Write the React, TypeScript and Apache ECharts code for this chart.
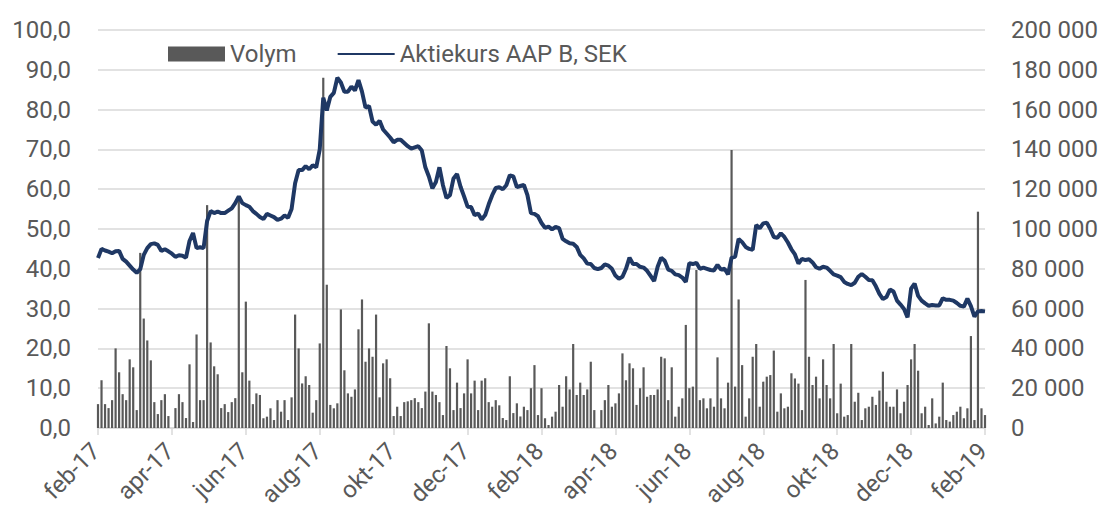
import React, { useEffect, useRef } from 'react';
import * as echarts from 'echarts';

const tickLabels = ['feb-17', 'apr-17', 'jun-17', 'aug-17', 'okt-17', 'dec-17', 'feb-18', 'apr-18', 'jun-18', 'aug-18', 'okt-18', 'dec-18', 'feb-19'];

// Aktiekurs AAP B, SEK (sampled about every 2.9 calendar days)
const price = [
  42.7, 45.0, 44.6, 44.3, 43.9, 44.4, 44.5, 42.5, 41.8, 40.8,
  39.8, 39.0, 39.9, 43.5, 45.2, 46.2, 46.4, 46.0, 44.5, 44.9,
  44.4, 43.8, 43.0, 43.4, 43.3, 42.8, 47.0, 49.0, 45.2, 45.4,
  45.2, 52.0, 54.5, 54.0, 54.4, 54.0, 54.0, 54.6, 55.2, 56.5,
  58.2, 56.5, 56.0, 55.6, 54.5, 53.8, 53.0, 52.5, 53.8, 53.4,
  53.0, 52.3, 52.6, 53.4, 52.8, 55.0, 61.5, 64.8, 64.8, 65.8,
  65.0, 66.0, 65.5, 70.0, 83.0, 79.8, 83.2, 84.2, 88.0, 86.8,
  84.5, 84.5, 85.8, 84.8, 87.4, 84.5, 80.5, 80.9, 77.0, 76.2,
  77.2, 75.0, 74.0, 73.0, 71.8, 72.4, 72.4, 71.6, 70.8, 70.2,
  70.5, 70.8, 69.7, 65.5, 63.2, 60.2, 61.8, 65.5, 61.0, 57.8,
  58.5, 62.7, 63.8, 60.6, 58.2, 55.6, 55.5, 53.5, 53.9, 52.4,
  53.5, 56.2, 58.5, 60.3, 60.5, 60.0, 61.0, 63.5, 63.2, 60.5,
  60.8, 61.1, 58.5, 54.0, 53.8, 53.2, 51.5, 50.3, 50.6, 49.9,
  50.5, 50.2, 47.5, 46.9, 46.4, 46.3, 45.5, 43.5, 42.6, 41.3,
  41.2, 40.2, 39.9, 40.2, 41.1, 40.8, 40.0, 38.3, 37.5, 38.0,
  40.0, 42.8, 41.2, 41.2, 40.5, 40.3, 39.5, 38.2, 36.9, 40.5,
  42.8, 42.0, 39.8, 39.5, 38.6, 38.4, 37.8, 36.7, 41.4, 41.2,
  41.5, 40.0, 40.3, 40.0, 39.7, 39.6, 41.0, 39.8, 40.0, 38.6,
  42.8, 43.0, 47.5, 46.7, 45.5, 45.0, 44.8, 51.0, 50.2, 51.4,
  51.6, 50.0, 48.0, 47.8, 48.9, 48.0, 46.6, 44.9, 43.6, 41.3,
  42.5, 42.2, 42.4, 41.6, 40.4, 40.0, 40.5, 40.3, 39.5, 38.6,
  38.3, 37.9, 36.7, 36.2, 35.9, 36.5, 38.0, 38.7, 38.0, 37.2,
  37.1, 35.6, 33.7, 32.4, 32.9, 34.8, 34.3, 32.0, 31.0, 29.9,
  27.8, 35.0, 36.3, 33.2, 32.0, 31.3, 30.7, 30.9, 30.8, 30.8,
  32.6, 32.2, 32.2, 32.0, 31.4, 30.7, 30.5, 32.5, 30.6, 28.0,
  29.3, 29.4, 29.3,
];

// Volym, thousands of shares
const volumeK = [
  12, 24, 12, 10, 14, 40, 28, 17, 14, 34.5,
  30.5, 9, 88, 55, 44, 34, 13, 7, 14, 17,
  6, 0, 10, 17, 13, 5, 32, 3, 47, 14,
  14, 112, 43, 31, 27, 10, 12, 8, 13, 15,
  116, 28, 63.5, 23.8, 12, 17.4, 16.6, 4.9, 5.7, 9.9,
  4, 14, 8.2, 14, 4, 15.4, 57, 40, 22.4, 26,
  21.6, 7.7, 14, 42.5, 176, 72, 11.6, 9.9, 12.4, 59.6,
  29, 17.4, 15.7, 19.4, 49.6, 64.6, 33.3, 40, 35.8, 57,
  15.4, 32.5, 34.5, 25, 6, 10.7, 6, 13, 13.4, 14,
  15, 13, 10, 18.3, 52.6, 18.3, 16.6, 13, 6.5, 41.2,
  30, 9, 22.8, 10, 17.4, 34.5, 17.4, 23.8, 9, 23.8,
  25, 13, 10.7, 14, 11.4, 5, 4, 26, 7.5, 12.4,
  5.8, 10.7, 9, 20, 31.6, 6.5, 20, 4.9, 1.5, 5.7,
  8.2, 21.6, 10.7, 26, 19.4, 42.2, 16.6, 22.8, 16.6, 19.4,
  33.3, 9, 0, 9, 14, 21.6, 10.7, 12.4, 17.4, 37.5,
  24, 32.5, 30, 11.6, 20, 30.5, 15.7, 16.6, 16.6, 19.4,
  35.8, 35, 14, 30.5, 5.7, 10.7, 14.9, 51.8, 20, 20.8,
  79.4, 14, 14.9, 9.9, 14.9, 10.7, 35.5, 14.9, 9.9, 22.8,
  139.7, 20.8, 64.6, 31.6, 5.7, 14.9, 35.8, 42.2, 10.7, 23.3,
  25.8, 26.6, 38.9, 8.2, 17.4, 9.9, 10.7, 27.5, 24.9, 22.3,
  9, 74.4, 35.8, 21.6, 25.8, 14.9, 34.5, 21.6, 14.9, 42.2,
  7.4, 22.3, 5.7, 6.5, 42.2, 13.2, 17.7, 4, 9.9, 10.7,
  15.7, 11.6, 18.8, 28.3, 13.2, 10.7, 10.7, 19.4, 7.4, 13.2,
  21.6, 34.5, 42.2, 28.8, 7.4, 10.7, 1.5, 14.9, 2.3, 5.7,
  22.8, 4, 3.2, 6.5, 8.2, 10.7, 4.9, 9.9, 46.2, 4,
  108.7, 9.9, 6.5,
];

const LABEL_STEP = 21;

const dates = price.map((_, i) => {
  const d = new Date(Date.UTC(2017, 1, 1) + Math.round((i * 730) / 252) * 86400000);
  return d.toISOString().slice(0, 10);
});

const fmtLeft = (v: number) => v.toFixed(1).replace('.', ',');
const fmtRight = (v: number) => String(Math.round(v)).replace(/\B(?=(\d{3})+(?!\d))/g, ' ');

const FONT = 'Roboto, "DejaVu Sans", sans-serif';
const TXT = '#595959';
const GRID = '#d9d9d9';
const NAVY = '#1f3864';

export default function App() {
  const ref = useRef<HTMLDivElement>(null);
  useEffect(() => {
    document.body.style.margin = '0';
    const chart = echarts.init(ref.current as HTMLDivElement, null, { renderer: 'svg' });
    chart.setOption({
      animation: false,
      textStyle: { fontFamily: FONT, color: TXT },
      legend: {
        left: 163,
        top: 37,
        itemWidth: 57,
        itemHeight: 15,
        itemGap: 40,
        textStyle: { fontSize: 24, color: TXT, fontFamily: FONT },
        data: [
          { name: 'Volym', icon: 'rect' },
          { name: 'Aktiekurs AAP B, SEK', itemStyle: { opacity: 0 } },
        ],
      },
      grid: { left: 98, right: 129, top: 30, bottom: 90 },
      xAxis: {
        type: 'category',
        data: dates,
        boundaryGap: false,
        axisLine: { lineStyle: { color: GRID, width: 1.5 } },
        axisTick: { interval: LABEL_STEP - 1, length: 7, lineStyle: { color: GRID, width: 1.5 } },
        axisLabel: { show: false },
        splitLine: { show: false },
      },
      yAxis: [
        {
          type: 'value',
          min: 0,
          max: 100,
          interval: 10,
          axisLine: { show: false },
          axisTick: { show: false },
          axisLabel: { formatter: fmtLeft, fontSize: 24, color: TXT, fontFamily: FONT, margin: 27 },
          splitLine: { lineStyle: { color: GRID, width: 1.5 } },
        },
        {
          type: 'value',
          position: 'right',
          min: 0,
          max: 200000,
          interval: 20000,
          axisLine: { show: false },
          axisTick: { show: false },
          axisLabel: { formatter: fmtRight, fontSize: 24, color: TXT, fontFamily: FONT, margin: 26 },
          splitLine: { show: false },
        },
      ],
      series: [
        {
          name: 'Volym',
          type: 'bar',
          yAxisIndex: 1,
          data: volumeK.map((v) => v * 1000),
          barWidth: 2.2,
          itemStyle: { color: '#595959' },
          z: 1,
        },
        {
          name: 'Aktiekurs AAP B, SEK',
          type: 'line',
          yAxisIndex: 0,
          data: price,
          symbol: 'none',
          lineStyle: { color: NAVY, width: 4 },
          itemStyle: { color: NAVY },
          z: 2,
        },
      ],
    });

    // rotated month labels, positioned through the category axis scale
    const y0 = chart.convertToPixel({ yAxisIndex: 0 }, 0) as number;
    const labels = tickLabels.map((t, k) => {
      const x = chart.convertToPixel({ xAxisIndex: 0 }, dates[k * LABEL_STEP]) as number;
      return {
        type: 'text',
        x: x - 2,
        y: y0 + 19,
        rotation: Math.PI / 4,
        silent: true,
        style: {
          text: t,
          align: 'right',
          verticalAlign: 'middle',
          fontSize: 24,
          fontFamily: FONT,
          fill: TXT,
        },
      };
    });
    chart.setOption({ graphic: labels });

    return () => chart.dispose();
  }, []);
  return <div ref={ref} style={{ width: 1114, height: 518 }} />;
}
